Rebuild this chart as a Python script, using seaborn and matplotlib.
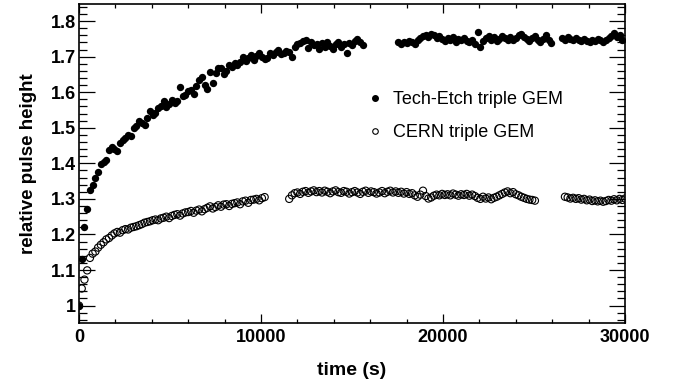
import matplotlib
matplotlib.use("Agg")
import pandas as pd
import seaborn as sns
import matplotlib.pyplot as plt
from matplotlib.lines import Line2D
from matplotlib.ticker import MultipleLocator, FormatStrFormatter, FuncFormatter

# Tech-Etch triple GEM (filled dots), three runs with gaps
te_time = [
    0, 150, 300, 450, 600, 750, 900, 1050, 1200, 1350,
    1500, 1650, 1800, 1950, 2100, 2250, 2400, 2550, 2700, 2850,
    3000, 3150, 3300, 3450, 3600, 3750, 3900, 4050, 4200, 4350,
    4500, 4650, 4800, 4950, 5100, 5250, 5400, 5550, 5700, 5850,
    6000, 6150, 6300, 6450, 6600, 6750, 6900, 7050, 7200, 7350,
    7500, 7650, 7800, 7950, 8100, 8250, 8400, 8550, 8700, 8850,
    9000, 9150, 9300, 9450, 9600, 9750, 9900, 10050, 10200, 10350,
    10500, 10650, 10800, 10950, 11100, 11250, 11400, 11550, 11700, 11850,
    12000, 12150, 12300, 12450, 12600, 12750, 12900, 13050, 13200, 13350,
    13500, 13650, 13800, 13950, 14100, 14250, 14400, 14550, 14700, 14850,
    15000, 15150, 15300, 15450, 15600,
    17550, 17700, 17850, 18000, 18150, 18300, 18450, 18600, 18750, 18900,
    19050, 19200, 19350, 19500, 19650, 19800, 19950, 20100, 20250, 20400,
    20550, 20700, 20850, 21000, 21150, 21300, 21450, 21600, 21750, 21900,
    22050, 22200, 22350, 22500, 22650, 22800, 22950, 23100, 23250, 23400,
    23550, 23700, 23850, 24000, 24150, 24300, 24450, 24600, 24750, 24900,
    25050, 25200, 25350, 25500, 25650, 25800, 25950,
    26550, 26700, 26850, 27000, 27150, 27300, 27450, 27600, 27750, 27900,
    28050, 28200, 28350, 28500, 28650, 28800, 28950, 29100, 29250, 29400,
    29550, 29700, 29850,
]
te_height = [
    1.000, 1.130, 1.220, 1.272, 1.325, 1.340, 1.360, 1.375, 1.398, 1.404,
    1.410, 1.437, 1.445, 1.440, 1.436, 1.458, 1.465, 1.470, 1.480, 1.477,
    1.500, 1.504, 1.520, 1.513, 1.508, 1.527, 1.546, 1.537, 1.541, 1.555,
    1.562, 1.574, 1.558, 1.567, 1.579, 1.571, 1.574, 1.614, 1.588, 1.593,
    1.602, 1.607, 1.596, 1.618, 1.635, 1.642, 1.620, 1.609, 1.658, 1.626,
    1.655, 1.669, 1.668, 1.652, 1.660, 1.677, 1.672, 1.682, 1.677, 1.685,
    1.699, 1.688, 1.695, 1.705, 1.690, 1.702, 1.710, 1.700, 1.692, 1.696,
    1.711, 1.704, 1.714, 1.720, 1.706, 1.710, 1.717, 1.712, 1.700, 1.728,
    1.735, 1.738, 1.745, 1.747, 1.725, 1.741, 1.733, 1.736, 1.722, 1.738,
    1.728, 1.740, 1.730, 1.721, 1.735, 1.742, 1.728, 1.736, 1.710, 1.738,
    1.733, 1.743, 1.750, 1.741, 1.734,
    1.740, 1.735, 1.742, 1.738, 1.745, 1.741, 1.736, 1.748, 1.752, 1.758,
    1.762, 1.756, 1.764, 1.760, 1.752, 1.757, 1.750, 1.744, 1.752, 1.748,
    1.755, 1.742, 1.750, 1.746, 1.753, 1.744, 1.740, 1.748, 1.735, 1.770,
    1.728, 1.745, 1.752, 1.758, 1.748, 1.755, 1.745, 1.750, 1.758, 1.752,
    1.746, 1.755, 1.748, 1.752, 1.760, 1.765, 1.756, 1.750, 1.745, 1.752,
    1.758, 1.748, 1.742, 1.750, 1.762, 1.748, 1.738,
    1.752, 1.748, 1.755, 1.750, 1.746, 1.752, 1.748, 1.744, 1.750, 1.745,
    1.742, 1.748, 1.744, 1.750, 1.746, 1.741, 1.748, 1.752, 1.758, 1.766,
    1.755, 1.760, 1.746,
]

# CERN triple GEM (open circles)
cern_time = [
    0, 150, 300, 450, 600, 750, 900, 1050, 1200, 1350,
    1500, 1650, 1800, 1950, 2100, 2250, 2400, 2550, 2700, 2850,
    3000, 3150, 3300, 3450, 3600, 3750, 3900, 4050, 4200, 4350,
    4500, 4650, 4800, 4950, 5100, 5250, 5400, 5550, 5700, 5850,
    6000, 6150, 6300, 6450, 6600, 6750, 6900, 7050, 7200, 7350,
    7500, 7650, 7800, 7950, 8100, 8250, 8400, 8550, 8700, 8850,
    9000, 9150, 9300, 9450, 9600, 9750, 9900, 10050, 10200,
    11550, 11700, 11850, 12000, 12150, 12300, 12450, 12600, 12750, 12900,
    13050, 13200, 13350, 13500, 13650, 13800, 13950, 14100, 14250, 14400,
    14550, 14700, 14850, 15000, 15150, 15300, 15450, 15600, 15750, 15900,
    16050, 16200, 16350, 16500, 16650, 16800, 16950, 17100, 17250, 17400,
    17550, 17700, 17850, 18000, 18150, 18300, 18450, 18600, 18750, 18900,
    19050, 19200, 19350, 19500, 19650, 19800, 19950, 20100, 20250, 20400,
    20550, 20700, 20850, 21000, 21150, 21300, 21450, 21600, 21750, 21900,
    22050, 22200, 22350, 22500, 22650, 22800, 22950, 23100, 23250, 23400,
    23550, 23700, 23850, 24000, 24150, 24300, 24450, 24600, 24750, 24900,
    25050,
    26700, 26850, 27000, 27150, 27300, 27450, 27600, 27750, 27900, 28050,
    28200, 28350, 28500, 28650, 28800, 28950, 29100, 29250, 29400, 29550,
    29700, 29850, 30000,
]
cern_height = [
    1.000, 1.048, 1.073, 1.099, 1.134, 1.146, 1.152, 1.163, 1.171, 1.178,
    1.186, 1.190, 1.197, 1.203, 1.207, 1.205, 1.212, 1.215, 1.214, 1.219,
    1.221, 1.223, 1.226, 1.229, 1.233, 1.235, 1.237, 1.240, 1.242, 1.240,
    1.245, 1.247, 1.250, 1.246, 1.252, 1.255, 1.257, 1.253, 1.259, 1.262,
    1.263, 1.266, 1.261, 1.267, 1.270, 1.265, 1.271, 1.275, 1.279, 1.273,
    1.277, 1.282, 1.278, 1.284, 1.285, 1.280, 1.286, 1.288, 1.290, 1.285,
    1.293, 1.295, 1.289, 1.297, 1.298, 1.300, 1.296, 1.302, 1.305,
    1.300, 1.310, 1.316, 1.318, 1.314, 1.320, 1.322, 1.317, 1.321, 1.324,
    1.319, 1.322, 1.318, 1.323, 1.320, 1.316, 1.321, 1.324, 1.319, 1.317,
    1.322, 1.320, 1.315, 1.319, 1.322, 1.318, 1.314, 1.320, 1.323, 1.317,
    1.321, 1.319, 1.315, 1.318, 1.322, 1.316, 1.320, 1.323, 1.318, 1.321,
    1.317, 1.320, 1.315, 1.319, 1.314, 1.316, 1.310, 1.306, 1.312, 1.323,
    1.308, 1.301, 1.304, 1.309, 1.312, 1.310, 1.314, 1.311, 1.313, 1.310,
    1.315, 1.312, 1.309, 1.313, 1.311, 1.314, 1.309, 1.312, 1.308, 1.303,
    1.300, 1.306, 1.301, 1.304, 1.299, 1.303, 1.306, 1.310, 1.314, 1.318,
    1.321, 1.316, 1.319, 1.313, 1.310, 1.306, 1.303, 1.300, 1.298, 1.297,
    1.295,
    1.306, 1.304, 1.301, 1.303, 1.300, 1.302, 1.298, 1.300, 1.296, 1.298,
    1.294, 1.296, 1.293, 1.295, 1.292, 1.294, 1.297, 1.295, 1.299, 1.296,
    1.300, 1.297, 1.301,
]

te = pd.DataFrame({"time": te_time, "height": te_height})
cern = pd.DataFrame({"time": cern_time, "height": cern_height})

sns.set_style("ticks", {"axes.edgecolor": "black", "xtick.color": "black",
                        "ytick.color": "black", "text.color": "black",
                        "axes.labelcolor": "black"})
plt.rcParams['font.family'] = ['Liberation Sans', 'DejaVu Sans']
plt.rcParams['font.weight'] = 'bold'

fig = plt.figure(figsize=(6.76, 3.86), dpi=100)
ax = fig.add_axes([79 / 676, 1 - 323 / 386, 546 / 676, 319 / 386])

sns.scatterplot(data=te, x="time", y="height", color="black", marker="o",
                s=28, linewidth=0, ax=ax, legend=False, zorder=3)
sns.scatterplot(data=cern, x="time", y="height", marker="o", s=27,
                facecolors="none", edgecolor="black", linewidth=0.8,
                ax=ax, legend=False, zorder=3)

ax.set_xlim(0, 30000)
ax.set_ylim(0.951, 1.848)
ax.xaxis.set_major_locator(MultipleLocator(10000))
ax.xaxis.set_minor_locator(MultipleLocator(2000))
ax.yaxis.set_major_locator(MultipleLocator(0.1))
ax.yaxis.set_minor_locator(MultipleLocator(0.02))
ax.xaxis.set_major_formatter(FormatStrFormatter('%d'))
ax.yaxis.set_major_formatter(FuncFormatter(lambda v, p: f"{v:g}"))

ax.tick_params(which="both", direction="in", top=True, right=True, width=0.9)
ax.tick_params(axis="x", which="major", length=6.5, pad=4, labelsize=13)
ax.tick_params(axis="x", which="minor", length=3.2)
ax.tick_params(axis="y", which="major", length=11.5, pad=2, labelsize=13)
ax.tick_params(axis="y", which="minor", length=5.5)
for sp in ax.spines.values():
    sp.set_linewidth(1.2)

ax.set_xlabel("time (s)", fontsize=14, fontweight="bold", labelpad=12)
ax.set_ylabel("relative pulse height", fontsize=13.5, fontweight="bold", labelpad=10)

handles = [
    Line2D([], [], marker="o", ls="", color="black", markersize=4),
    Line2D([], [], marker="o", ls="", mfc="none", mec="black", mew=0.8, markersize=4),
]
ax.legend(handles, ["Tech-Etch triple GEM", "CERN triple GEM"],
          loc="center left", bbox_to_anchor=(0.5256, 0.649), frameon=False,
          prop={"size": 13, "weight": "normal"}, handlelength=1.0,
          handletextpad=0.5, borderpad=0, borderaxespad=0, labelspacing=0.88)

fig.savefig("out.png", dpi=100)
